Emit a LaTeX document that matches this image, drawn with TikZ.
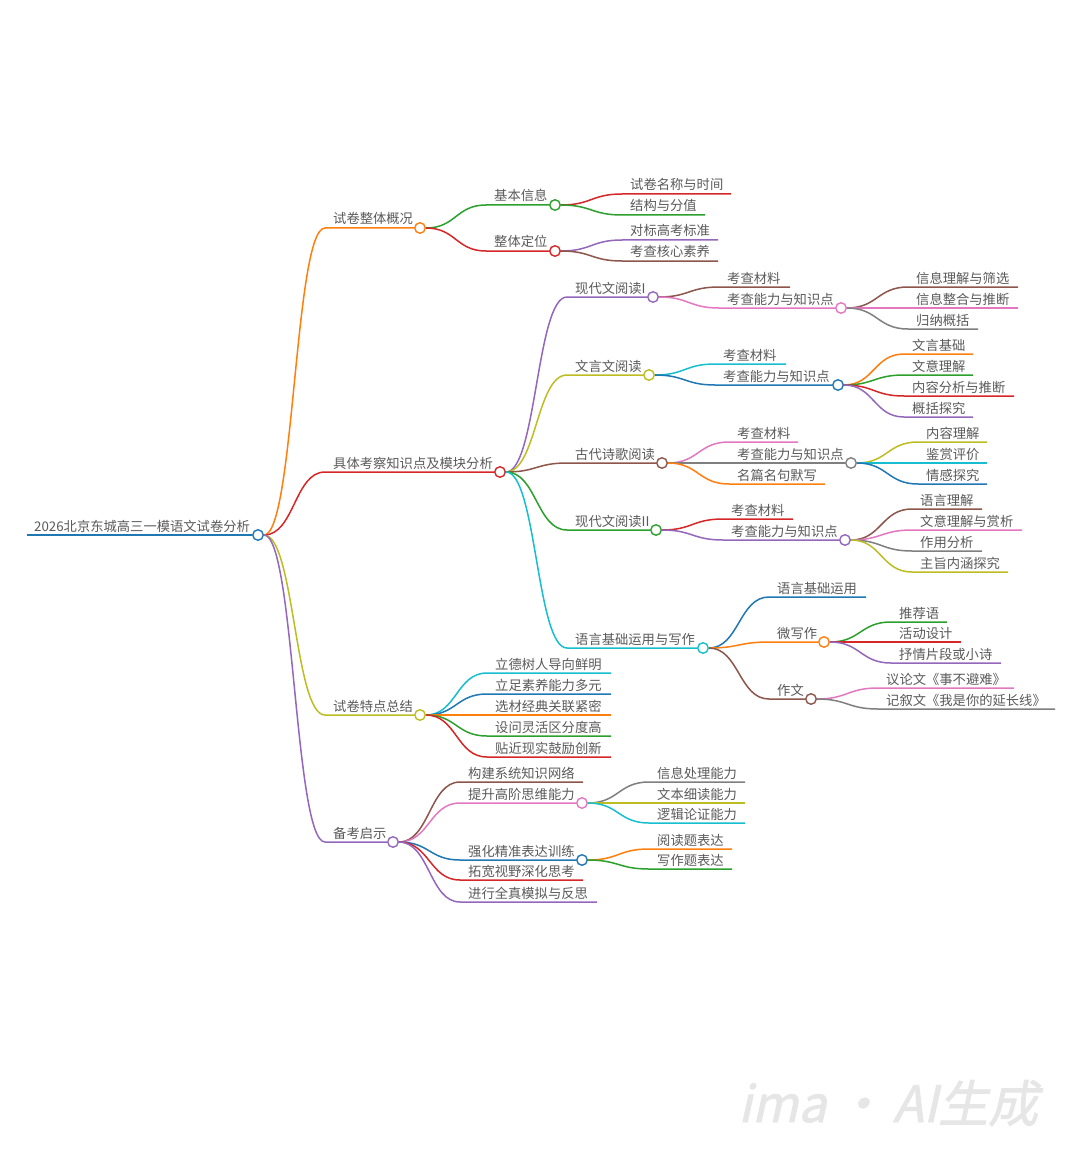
\documentclass[tikz,border=0pt]{standalone}
\usepackage{fontspec}
\usetikzlibrary{calc}
\newfontfamily\cjk{Noto Sans CJK SC}
\newfontfamily\wmfont[FakeSlant=0.22,FakeBold=1.5]{Noto Sans CJK SC}
\definecolor{cblue}{HTML}{1F77B4}
\definecolor{corange}{HTML}{FF7F0E}
\definecolor{cgreen}{HTML}{2CA02C}
\definecolor{cred}{HTML}{D62728}
\definecolor{cpurple}{HTML}{9467BD}
\definecolor{cbrown}{HTML}{8C564B}
\definecolor{cpink}{HTML}{E377C2}
\definecolor{cgray}{HTML}{7F7F7F}
\definecolor{colive}{HTML}{BCBD22}
\definecolor{ccyan}{HTML}{17BECF}
\definecolor{ctext}{HTML}{5A5A5A}
\definecolor{cwm}{HTML}{E6E6E6}
\pgfdeclarelayer{bg}
\pgfdeclarelayer{paper}
\pgfsetlayers{paper,bg,main}
\tikzset{
  txt/.style={font=\cjk\fontsize{13.3}{15}\selectfont, text=ctext, inner sep=0pt, anchor=base west},
  dot/.style={circle, fill=white, line width=1.4pt, minimum size=10.5pt, inner sep=0pt},
  edge/.style={line width=1.5pt},
  mmlink/.style={to path={let \p1=(\tikztostart), \p2=(\tikztotarget) in
     .. controls ({(\x1+\x2)/2},\y1) and ({(\x1+\x2)/2},\y2) .. (\tikztotarget)}}
}
% #1 name, #2 colour, #3 parent, #4 text x, #5 line y, #6 line end x, #7 text
\newcommand\mmleaf[7]{%
  \node[txt] (#1-t) at (#4,#5-4) {#7};
  \coordinate (#1-s) at (#4-8,#5);
  \coordinate (#1) at (#6,#5);
  \begin{pgfonlayer}{bg}
  \draw[edge, #2] (#3.east) to[mmlink] (#1-s) -- (#1);
  \end{pgfonlayer}
}
% #6 circle x
\newcommand\mmbranch[7]{%
  \node[txt] (#1-t) at (#4,#5-4) {#7};
  \coordinate (#1-s) at (#4-8,#5);
  \node[dot, draw=#2] (#1) at (#6,#5) {};
  \begin{pgfonlayer}{bg}
  \draw[edge, #2] (#3.east) to[mmlink] (#1-s) -- (#1.west);
  \end{pgfonlayer}
}
\begin{document}
\begin{tikzpicture}[x=1pt,y=-1pt]
\useasboundingbox (0,0) rectangle (1080,1166);
\begin{pgfonlayer}{paper}
\fill[white] (0,0) rectangle (1080,1166);
\end{pgfonlayer}
% root
\node[txt] (r-t) at (34,531) {2026北京东城高三一模语文试卷分析};
\coordinate (r-s) at (27,535);
\node[dot, draw=cblue] (r) at (258,535) {};
\begin{pgfonlayer}{bg}
\draw[cblue, line width=2pt] (r-s) -- (r.west);
\end{pgfonlayer}
% level 1
\mmbranch{a}{corange}{r}{333}{228}{420}{试卷整体概况}
\mmbranch{b}{cred}{r}{333}{472}{500}{具体考察知识点及模块分析}
\mmbranch{c}{colive}{r}{333}{715}{420}{试卷特点总结}
\mmbranch{d}{cpurple}{r}{333}{842}{393}{备考启示}
% a
\mmbranch{a1}{cgreen}{a}{494}{205}{555}{基本信息}
\mmleaf{a11}{cred}{a1}{630}{194}{731}{试卷名称与时间}
\mmleaf{a12}{cgreen}{a1}{630}{215}{705}{结构与分值}
\mmbranch{a2}{cred}{a}{494}{251}{555}{整体定位}
\mmleaf{a21}{cpurple}{a2}{630}{240}{718}{对标高考标准}
\mmleaf{a22}{cbrown}{a2}{630}{261}{718}{考查核心素养}
% b1
\mmbranch{b1}{cpurple}{b}{575}{297}{653}{现代文阅读I}
\mmleaf{b11}{cbrown}{b1}{727}{287}{790}{考查材料}
\mmbranch{b12}{cpink}{b1}{727}{308}{841}{考查能力与知识点}
\mmleaf{b121}{cbrown}{b12}{916}{287}{1018}{信息理解与筛选}
\mmleaf{b122}{cpink}{b12}{916}{308}{1018}{信息整合与推断}
\mmleaf{b123}{cgray}{b12}{916}{329}{978}{归纳概括}
% b2
\mmbranch{b2}{colive}{b}{575}{375}{649}{文言文阅读}
\mmleaf{b21}{ccyan}{b2}{723}{364}{786}{考查材料}
\mmbranch{b22}{cblue}{b2}{723}{385}{838}{考查能力与知识点}
\mmleaf{b221}{corange}{b22}{912}{354}{973}{文言基础}
\mmleaf{b222}{cgreen}{b22}{912}{375}{973}{文意理解}
\mmleaf{b223}{cred}{b22}{912}{396}{1014}{内容分析与推断}
\mmleaf{b224}{cpurple}{b22}{912}{417}{973}{概括探究}
% b3
\mmbranch{b3}{cbrown}{b}{575}{463}{662}{古代诗歌阅读}
\mmleaf{b31}{cpink}{b3}{737}{442}{798}{考查材料}
\mmbranch{b32}{cgray}{b3}{737}{463}{851}{考查能力与知识点}
\mmleaf{b321}{colive}{b32}{926}{442}{987}{内容理解}
\mmleaf{b322}{ccyan}{b32}{926}{463}{987}{鉴赏评价}
\mmleaf{b323}{cblue}{b32}{926}{484}{987}{情感探究}
\mmleaf{b33}{corange}{b3}{737}{484}{825}{名篇名句默写}
% b4
\mmbranch{b4}{cgreen}{b}{575}{530}{656}{现代文阅读II}
\mmleaf{b41}{cred}{b4}{731}{519}{793}{考查材料}
\mmbranch{b42}{cpurple}{b4}{731}{540}{845}{考查能力与知识点}
\mmleaf{b421}{cbrown}{b42}{920}{509}{982}{语言理解}
\mmleaf{b422}{cpink}{b42}{920}{530}{1022}{文意理解与赏析}
\mmleaf{b423}{cgray}{b42}{920}{551}{982}{作用分析}
\mmleaf{b424}{colive}{b42}{920}{572}{1008}{主旨内涵探究}
% b5
\mmbranch{b5}{ccyan}{b}{575}{648}{703}{语言基础运用与写作}
\mmleaf{b51}{cblue}{b5}{777}{597}{866}{语言基础运用}
\mmbranch{b52}{corange}{b5}{777}{642}{824}{微写作}
\mmleaf{b521}{cgreen}{b52}{899}{622}{947}{推荐语}
\mmleaf{b522}{cred}{b52}{899}{642}{961}{活动设计}
\mmleaf{b523}{cpurple}{b52}{899}{663}{1001}{抒情片段或小诗}
\mmbranch{b53}{cbrown}{b5}{777}{699}{811}{作文}
\mmleaf{b531}{cpink}{b53}{886}{688}{1014}{议论文《事不避难》}
\mmleaf{b532}{cgray}{b53}{886}{709}{1055}{记叙文《我是你的延长线》}
% c
\mmleaf{c1}{ccyan}{c}{495}{673}{611}{立德树人导向鲜明}
\mmleaf{c2}{cblue}{c}{495}{694}{611}{立足素养能力多元}
\mmleaf{c3}{corange}{c}{495}{715}{611}{选材经典关联紧密}
\mmleaf{c4}{cgreen}{c}{495}{736}{611}{设问灵活区分度高}
\mmleaf{c5}{cred}{c}{495}{757}{611}{贴近现实鼓励创新}
% d
\mmleaf{d1}{cbrown}{d}{468}{782}{583}{构建系统知识网络}
\mmbranch{d2}{cpink}{d}{468}{803}{582}{提升高阶思维能力}
\mmleaf{d21}{cgray}{d2}{657}{782}{745}{信息处理能力}
\mmleaf{d22}{colive}{d2}{657}{803}{745}{文本细读能力}
\mmleaf{d23}{ccyan}{d2}{657}{823}{745}{逻辑论证能力}
\mmbranch{d3}{cblue}{d}{468}{860}{582}{强化精准表达训练}
\mmleaf{d31}{corange}{d3}{657}{849}{732}{阅读题表达}
\mmleaf{d32}{cgreen}{d3}{657}{869}{732}{写作题表达}
\mmleaf{d4}{cred}{d}{468}{880}{583}{拓宽视野深化思考}
\mmleaf{d5}{cpurple}{d}{468}{902}{597}{进行全真模拟与反思}
% watermark
\node[font=\wmfont\fontsize{50}{55}\selectfont, text=cwm, inner sep=0pt, anchor=base west] (wm) at (738,1122) {ima\,·\,AI生成};
\end{tikzpicture}
\end{document}
